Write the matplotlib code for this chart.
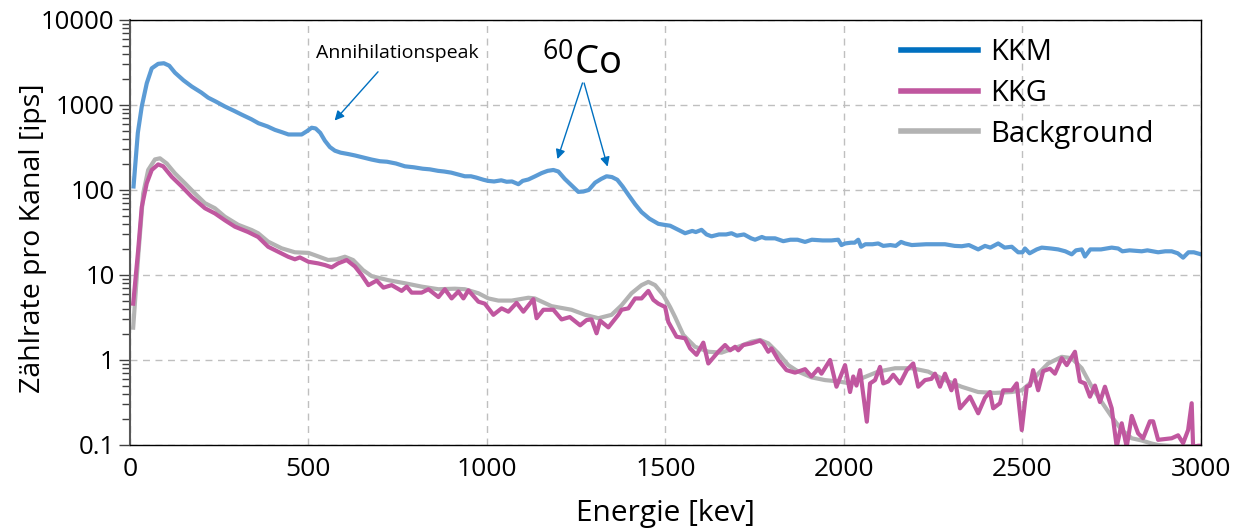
import matplotlib
matplotlib.use("Agg")
import matplotlib.pyplot as plt
from matplotlib.lines import Line2D
from matplotlib.ticker import FixedLocator, LogLocator, NullFormatter

plt.rcParams['font.family'] = ['Open Sans', 'DejaVu Sans']

E_kkm = [10, 22, 33, 47, 61, 79, 95, 110, 126, 150, 173, 200, 219, 240, 266, 290, 313, 340, 360, 385,
         406, 425, 444, 465, 481, 495, 509, 520, 533, 546, 560, 574, 590, 611, 630, 655, 677, 700, 720, 745,
         770, 795, 820, 840, 863, 880, 900, 920, 938, 955, 970, 990, 1003, 1020, 1040, 1055, 1070, 1088, 1100, 1116,
         1135, 1153, 1170, 1186, 1200, 1218, 1240, 1256, 1270, 1285, 1303, 1320, 1335, 1350, 1365, 1380, 1396, 1415, 1433, 1455,
         1480, 1495, 1513, 1530, 1555, 1575, 1585, 1601, 1615, 1629, 1650, 1670, 1685, 1700, 1720, 1740, 1751, 1770, 1780, 1807,
         1830, 1850, 1870, 1891, 1910, 1940, 1965, 1984, 1993, 2003, 2020, 2030, 2040, 2048, 2060, 2080, 2096, 2110, 2130, 2145,
         2160, 2171, 2190, 2230, 2283, 2310, 2330, 2350, 2376, 2395, 2410, 2432, 2450, 2470, 2488, 2500, 2507, 2520, 2540, 2554,
         2580, 2600, 2620, 2638, 2650, 2666, 2675, 2690, 2720, 2750, 2768, 2780, 2800, 2834, 2850, 2880, 2900, 2918, 2935, 2950,
         2965, 2980, 3000]
kkm = [110, 470, 960, 1800, 2700, 3050, 3100, 2900, 2400, 1950, 1650, 1400, 1220, 1100, 960, 860, 770, 680, 610, 560,
       510, 480, 450, 450, 450, 490, 540, 530, 470, 380, 320, 290, 275, 265, 255, 240, 228, 218, 215, 205,
       190, 185, 178, 175, 168, 165, 160, 152, 145, 145, 140, 132, 128, 126, 130, 125, 126, 117, 128, 133,
       145, 158, 168, 172, 165, 135, 110, 95, 96, 100, 122, 135, 145, 142, 132, 110, 88, 68, 55, 46,
       40, 39, 38, 35, 31, 33, 32, 34, 30, 28.5, 30, 30, 31, 29, 30, 27, 26, 28, 27, 27,
       25, 26, 26, 24.5, 26, 25.5, 25.5, 26, 22.5, 23.5, 24, 24, 26, 21.5, 23, 23, 23.5, 22, 22.5, 22,
       24.5, 23.5, 22.5, 23, 23, 22, 21.8, 22.5, 20, 22, 21, 23.5, 21, 21.5, 18.5, 18.5, 20.5, 18, 20, 21,
       20.5, 20, 19, 17.5, 19.5, 20, 16.5, 20, 20, 21, 20.5, 19, 19.5, 19, 19.5, 18.5, 19, 19, 18, 16,
       18.5, 18.5, 17.5]

E_kkg = [9, 23, 33, 47, 61, 79, 93, 117, 145, 173, 190, 210, 238, 266, 294, 331, 359, 387, 415, 443,
         462, 476, 500, 527, 546, 565, 583, 607, 630, 649, 668, 691, 710, 733, 761, 775, 789, 817, 836, 864,
         882, 901, 920, 934, 948, 976, 994, 1018, 1041, 1060, 1083, 1102, 1130, 1139, 1158, 1186, 1209, 1232, 1261, 1279,
         1293, 1307, 1317, 1340, 1368, 1377, 1396, 1415, 1433, 1452, 1466, 1480, 1499, 1508, 1531, 1555, 1569, 1587, 1606, 1620,
         1648, 1667, 1681, 1695, 1704, 1718, 1741, 1765, 1774, 1788, 1797, 1816, 1839, 1863, 1891, 1909, 1928, 1937, 1961, 1979,
         2003, 2017, 2026, 2035, 2045, 2064, 2073, 2087, 2101, 2110, 2124, 2138, 2157, 2176, 2194, 2208, 2227, 2245, 2255, 2269,
         2283, 2301, 2311, 2325, 2353, 2376, 2395, 2409, 2418, 2437, 2446, 2470, 2484, 2498, 2512, 2521, 2530, 2544, 2558, 2577,
         2591, 2610, 2624, 2647, 2661, 2675, 2689, 2703, 2717, 2731, 2750, 2764, 2778, 2792, 2806, 2824, 2838, 2857, 2866, 2880,
         2918, 2936, 2950, 2964, 2974, 2978, 2992, 3000]
kkg = [4.6, 19.7, 63, 120, 172, 200, 190, 143, 110, 83, 72, 61, 53, 44, 37, 32, 28, 21.5, 18.8, 16.4,
       15.3, 16.1, 14.3, 13.7, 13.1, 12.3, 13.7, 15, 12.6, 10, 7.6, 8.6, 7.1, 7.6, 6.5, 7.3, 6.2, 6.2, 6.8, 5.5,
       6.8, 5.3, 6.4, 5.3, 6.6, 4.85, 4.6, 3.4, 4.05, 3.7, 4.7, 3.7, 5.2, 3.1, 3.9, 3.9, 3.0, 3.2, 2.56, 2.95,
       3.0, 2.06, 2.9, 2.42, 3.4, 3.9, 4.05, 5.3, 5.3, 6.5, 5.1, 4.6, 4.2, 2.8, 1.88, 1.8, 1.37, 1.15, 1.6, 0.91,
       1.25, 1.5, 1.3, 1.43, 1.3, 1.5, 1.57, 1.69, 1.57, 1.25, 1.37, 1.0, 0.76, 0.71, 0.78, 0.64, 0.79, 0.69, 1.0, 0.485,
       0.87, 0.42, 0.64, 0.5, 0.76, 0.188, 0.53, 0.58, 0.83, 0.53, 0.56, 0.67, 0.53, 0.76, 0.91, 0.485, 0.58, 0.6, 0.69, 0.485,
       0.69, 0.44, 0.58, 0.27, 0.37, 0.236, 0.36, 0.42, 0.27, 0.31, 0.44, 0.44, 0.53, 0.15, 0.485, 0.5, 0.76, 0.44, 0.74, 0.79,
       0.69, 1.05, 0.87, 1.25, 0.56, 0.53, 0.37, 0.5, 0.32, 0.485, 0.27, 0.095, 0.18, 0.095, 0.22, 0.137, 0.12, 0.19, 0.19, 0.115,
       0.12, 0.13, 0.105, 0.15, 0.31, 0.095, 0.098, 0.098]

E_bg = [9, 23, 37, 51, 70, 84, 103, 126, 154, 182, 210, 238, 266, 303, 341, 359, 387, 425, 462, 500,
        518, 555, 579, 602, 625, 653, 677, 723, 770, 817, 864, 910, 938, 976, 1004, 1032, 1069, 1116, 1134, 1181,
        1237, 1275, 1312, 1349, 1377, 1405, 1433, 1452, 1471, 1494, 1513, 1527, 1550, 1583, 1620, 1657, 1704, 1741, 1765, 1788,
        1816, 1844, 1872, 1909, 1947, 1984, 2017, 2050, 2096, 2143, 2190, 2236, 2283, 2329, 2376, 2423, 2470, 2498, 2521, 2544,
        2572, 2610, 2638, 2666, 2694, 2722, 2750, 2778, 2806, 2834, 2862, 2880, 2920, 3000]
bg = [2.4, 16.4, 91, 172, 229, 236, 205, 157, 120, 91, 70, 61, 48.5, 39, 33.8, 31, 24.7, 20.6, 18.5, 18.2,
      17.1, 15, 15.3, 16.4, 15, 11.4, 9.7, 8.7, 8.0, 7.3, 6.8, 6.9, 6.8, 6.1, 5.3, 5.0, 5.0, 5.4, 5.3, 4.3,
      3.9, 3.4, 3.1, 3.4, 4.4, 6.1, 7.6, 8.3, 7.6, 5.8, 4.2, 3.2, 1.97, 1.43, 1.25, 1.22, 1.43, 1.64, 1.72, 1.57,
      1.2, 0.87, 0.73, 0.625, 0.58, 0.56, 0.53, 0.61, 0.73, 0.8, 0.8, 0.73, 0.58, 0.485, 0.42, 0.41, 0.42, 0.44, 0.53, 0.69,
      0.91, 1.09, 1.05, 0.8, 0.485, 0.32, 0.215, 0.15, 0.12, 0.113, 0.104, 0.1, 0.097, 0.097]

y_ticks = [0.1, 1, 10, 100, 1000, 10000]
y_labels = ["0.1", "1", "10", "100", "1000", "10000"]
x_ticks = [0, 500, 1000, 1500, 2000, 2500, 3000]

fig = plt.figure(figsize=(12.39, 5.29), dpi=100)
ax = fig.add_axes([0.1049, 0.1588, 0.8644, 0.8034])

ax.plot(E_bg, bg, color='#b3b3b3', lw=3, solid_joinstyle='round')
ax.plot(E_kkg, kkg, color='#c0579f', lw=3, solid_joinstyle='round')
ax.plot(E_kkm, kkm, color='#5b9bd5', lw=3, solid_joinstyle='round')

ax.set_yscale('log')
ax.set_xlim(0, 3000)
ax.set_ylim(0.1, 10000)
ax.yaxis.set_major_locator(FixedLocator(y_ticks))
ax.set_yticklabels(y_labels)
ax.yaxis.set_minor_locator(LogLocator(base=10, subs=range(2, 10)))
ax.yaxis.set_minor_formatter(NullFormatter())
ax.set_xticks(x_ticks)

ax.tick_params(axis='y', which='major', length=8, width=1, color='#404040', labelsize=18.5, pad=3)
ax.tick_params(axis='y', which='minor', length=6, width=1, color='#404040')
ax.tick_params(axis='x', length=0, labelsize=19, pad=9)

ax.grid(True, which='major', color='#bfbfbf', ls=(0, (5, 4)), lw=1)
for s in ['top', 'right', 'bottom']:
    ax.spines[s].set_color('black')
    ax.spines[s].set_linewidth(1)
ax.spines['left'].set_color('#595959')
ax.spines['left'].set_linewidth(1.5)

ax.set_xlabel('Energie [kev]', fontsize=21.5, labelpad=12)
ax.set_ylabel('Zählrate pro Kanal [ips]', fontsize=20.5, va='center')
ax.yaxis.set_label_coords(-0.0906, 0.487)

arrow_c = '#0070c0'
ax.annotate('', xy=(568, 620), xytext=(700, 2600),
            arrowprops=dict(arrowstyle='-|>', color=arrow_c, lw=1, mutation_scale=14))
ax.text(520, 4100, 'Annihilationspeak', fontsize=14, va='center', ha='left')

ax.text(1265, 3000, r'$^{\mathregular{60}}$Co', fontsize=27.5, va='center', ha='center')
ax.annotate('', xy=(1195, 215), xytext=(1270, 1950),
            arrowprops=dict(arrowstyle='-|>', color=arrow_c, lw=1, mutation_scale=14))
ax.annotate('', xy=(1340, 175), xytext=(1270, 1950),
            arrowprops=dict(arrowstyle='-|>', color=arrow_c, lw=1, mutation_scale=14))

handles = [Line2D([], [], color='#0070c0', lw=4),
           Line2D([], [], color='#c0579f', lw=4),
           Line2D([], [], color='#b3b3b3', lw=4)]
ax.legend(handles, ['KKM', 'KKG', 'Background'], loc='upper left', frameon=False,
          fontsize=21, handlelength=2.64, handletextpad=0.4, borderpad=0, borderaxespad=0,
          bbox_to_anchor=(0.72, 0.957), labelspacing=0.4)

fig.savefig('out.png', dpi=100)
